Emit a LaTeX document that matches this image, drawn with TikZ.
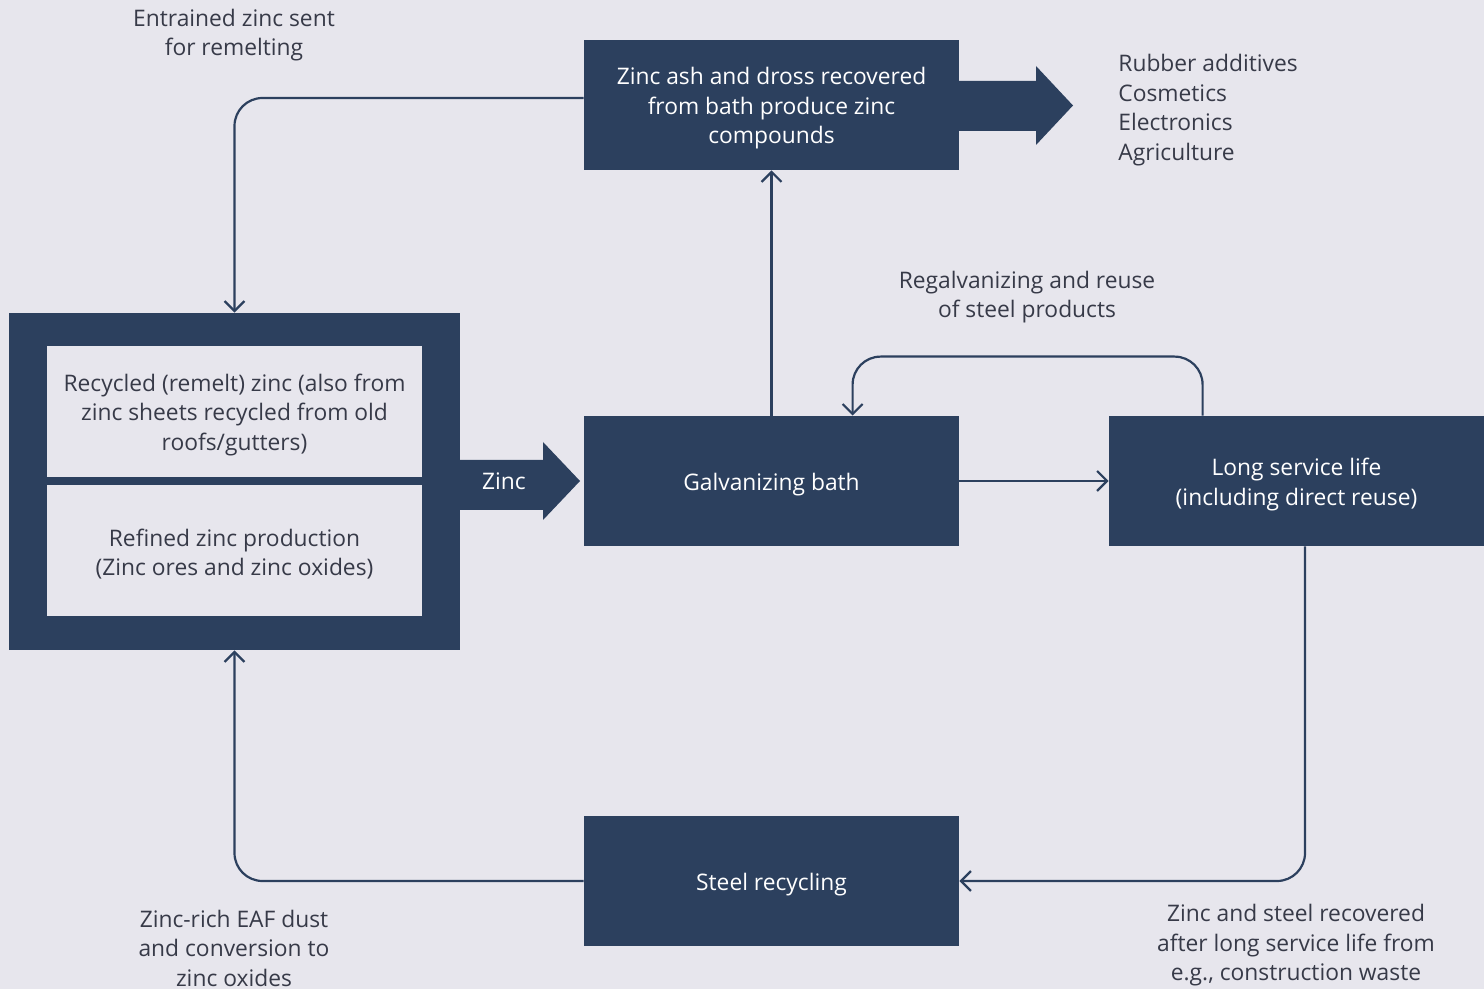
\documentclass[tikz,border=0pt]{standalone}
\usepackage{fontspec}
\setmainfont{Open Sans}
\usetikzlibrary{arrows.meta}
\usetikzlibrary{calc}
\definecolor{zincnavy}{RGB}{44,64,94}
\definecolor{zincbg}{RGB}{231,230,237}
\definecolor{zinctext}{RGB}{55,58,72}
\tikzstyle{stagebox}=[fill=zincnavy,minimum width=187.5pt,minimum height=65pt,inner sep=0pt]
\tikzstyle{sourcebox}=[fill=zincbg,minimum width=187.5pt,minimum height=65.5pt,inner sep=0pt]
\tikzstyle{stagetext}=[text=white,align=center,inner sep=0pt,yshift=-1.75pt]
\tikzstyle{sourcetext}=[text=zinctext,align=center,inner sep=0pt,yshift=-1.75pt]
\tikzstyle{note}=[text=zinctext,align=center,inner sep=0pt]
\tikzstyle{flow}=[draw=zincnavy,line width=1.1pt,rounded corners=14pt,-{Straight Barb[length=5pt,width=10pt,line width=1.1pt]}]

\begin{document}
\begin{tikzpicture}[x=0.5pt,y=-0.5pt,font=\fontsize{11.4}{14.75}\selectfont]
  \useasboundingbox (0,0) rectangle (1484,989);
  \fill[zincbg] (0,0) rectangle (1484,989);

  % zinc sources
  \node[fill=zincnavy,minimum width=225.5pt,minimum height=168.5pt,inner sep=0pt] (outer) at (234.5,481.5) {};
  \node[sourcebox] (remelt) at (234.5,411.5) {};
  \node[sourcetext] (remelttext) at (remelt) {Recycled (remelt) zinc (also from\\zinc sheets recycled from old\\roofs/gutters)};
  \node[sourcebox] (refined) at (234.5,550.5) {};
  \node[sourcetext] (refinedtext) at (refined) {Refined zinc production\\(Zinc ores and zinc oxides)};

  % process stages
  \node[stagebox] (ash) at (771.5,105) {};
  \node[stagetext] (ashtext) at (ash) {Zinc ash and dross recovered\\from bath produce zinc\\compounds};
  \node[stagebox] (galv) at (771.5,481) {};
  \node[stagetext] (galvtext) at (galv) {Galvanizing bath};
  \node[stagebox] (life) at (1296.5,481) {};
  \node[stagetext] (lifetext) at (life) {Long service life\\(including direct reuse)};
  \node[stagebox] (steel) at (771.5,881) {};
  \node[stagetext] (steeltext) at (steel) {Steel recycling};

  % block arrows
  \fill[zincnavy] (460,460) -- (543,460) -- (543,442) -- (580,481) -- (543,520) -- (543,510) -- (460,510) -- cycle;
  \node[text=white] (zinc) at (504,481) {Zinc};
  \fill[zincnavy] (959,81) -- (1036,81) -- (1036,66) -- (1073,105.5) -- (1036,145) -- (1036,131) -- (959,131) -- cycle;
  \node[note,align=left,anchor=north west] (uses) at (1118,54) {Rubber additives\\Cosmetics\\Electronics\\Agriculture};

  % labels
  \node[note] (entrained) at (234,35) {Entrained zinc sent\\for remelting};
  \node[note] (regalv) at (1027,297) {Regalvanizing and reuse\\of steel products};
  \node[note] (eaf) at (234,948) {Zinc-rich EAF dust\\and conversion to\\zinc oxides};
  \node[note] (recovered) at (1296,945.5) {Zinc and steel recovered\\after long service life from\\e.g., construction waste};

  % connectors
  \draw[flow] (galv.north) -- (ash.south);
  \draw[flow] ([yshift=3.5pt]ash.west) -| (outer.north);
  \draw[flow] (galv.east) -- (life.west);
  \draw[flow] ([xshift=47pt]life.north west) -- ++(0,-59) -| ([xshift=134.5pt]galv.north west);
  \draw[flow] ([xshift=4.25pt]life.south) |- (steel.east);
  \draw[flow] (steel.west) -| (outer.south);
\end{tikzpicture}
\end{document}
